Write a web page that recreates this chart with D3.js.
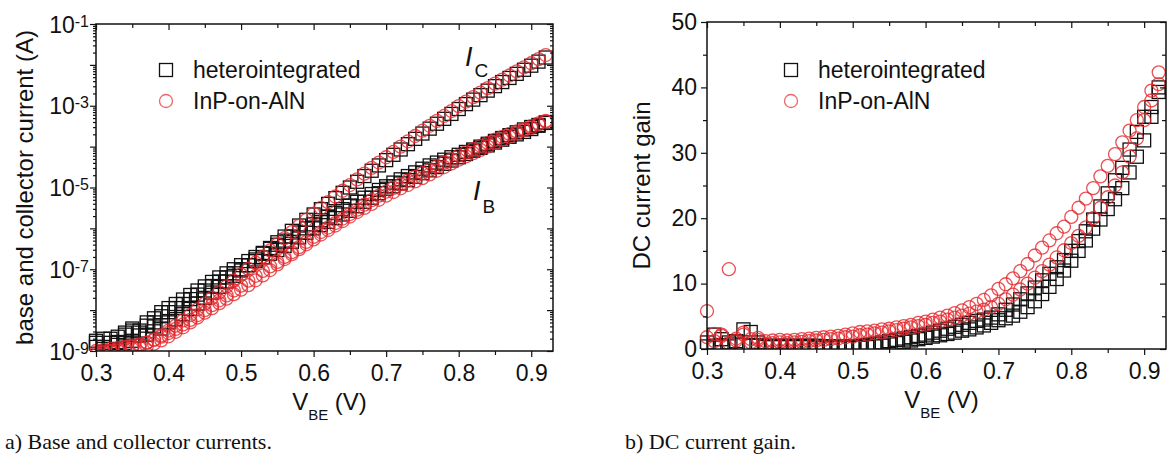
<!DOCTYPE html>
<html>
<head>
<meta charset="utf-8">
<script src="https://cdn.jsdelivr.net/npm/d3@7"></script>
<style>
  body { margin: 0; background: #fff; }
  svg text { font-family: "Liberation Sans", Arial, sans-serif; fill: #111; }
  .tick text { font-size: 23px; }
  .tick line { stroke: #111; stroke-width: 1.2; }
</style>
</head>
<body>
<svg id="fig" width="1167" height="456"></svg>
<script>
// base-emitter voltage steps (V)
var vbe = [
  0.30, 0.31, 0.32, 0.33, 0.34, 0.35, 0.36, 0.37, 0.38, 0.39,
  0.40, 0.41, 0.42, 0.43, 0.44, 0.45, 0.46, 0.47, 0.48, 0.49,
  0.50, 0.51, 0.52, 0.53, 0.54, 0.55, 0.56, 0.57, 0.58, 0.59,
  0.60, 0.61, 0.62, 0.63, 0.64, 0.65, 0.66, 0.67, 0.68, 0.69,
  0.70, 0.71, 0.72, 0.73, 0.74, 0.75, 0.76, 0.77, 0.78, 0.79,
  0.80, 0.81, 0.82, 0.83, 0.84, 0.85, 0.86, 0.87, 0.88, 0.89,
  0.90, 0.91, 0.92
];

// log10 of currents (A), read off panel a)
var heteroLogIc = [
  -8.75, -8.95, -8.80, -8.85, -8.55, -8.75, -8.50, -8.60, -8.40, -8.45,
  -8.30, -8.22, -8.10, -7.97, -7.84, -7.70, -7.57, -7.43, -7.30, -7.16,
  -7.03, -6.90, -6.76, -6.62, -6.48, -6.34, -6.20, -6.06, -5.93, -5.79,
  -5.66, -5.53, -5.40, -5.26, -5.13, -5.00, -4.86, -4.72, -4.59, -4.46,
  -4.33, -4.20, -4.07, -3.94, -3.81, -3.68, -3.56, -3.44, -3.32, -3.20,
  -3.08, -2.96, -2.85, -2.74, -2.63, -2.52, -2.42, -2.32, -2.22, -2.12,
  -2.02, -1.92, -1.82
];
var heteroLogIb1 = [
  -8.90, -8.70, -8.95, -8.65, -8.80, -8.50, -8.62, -8.38, -8.30, -8.15,
  -8.05, -7.95, -7.85, -7.73, -7.62, -7.52, -7.41, -7.30, -7.20, -7.10,
  -7.00, -6.90, -6.80, -6.71, -6.62, -6.53, -6.43, -6.33, -6.22, -6.11,
  -6.00, -5.92, -5.84, -5.75, -5.66, -5.57, -5.46, -5.35, -5.25, -5.14,
  -5.03, -4.97, -4.90, -4.82, -4.74, -4.65, -4.58, -4.50, -4.42, -4.34,
  -4.26, -4.18, -4.10, -4.03, -3.97, -3.90, -3.83, -3.76, -3.70, -3.64,
  -3.57, -3.49, -3.42
];
var heteroLogIb2 = [
  -8.80, -8.90, -8.70, -8.78, -8.60, -8.45, -8.55, -8.30, -8.20, -8.05,
  -7.95, -7.85, -7.74, -7.63, -7.52, -7.42, -7.31, -7.20, -7.10, -7.00,
  -6.90, -6.80, -6.70, -6.60, -6.50, -6.40, -6.30, -6.20, -6.10, -6.00,
  -5.90, -5.80, -5.71, -5.62, -5.53, -5.44, -5.35, -5.25, -5.16, -5.06,
  -4.97, -4.88, -4.80, -4.72, -4.63, -4.54, -4.46, -4.39, -4.32, -4.26,
  -4.20, -4.13, -4.07, -4.00, -3.93, -3.86, -3.79, -3.72, -3.65, -3.58,
  -3.52, -3.47, -3.41
];
var inpLogIc = [
  -9.05, -9.02, -9.00, -8.96, -8.93, -8.90, -8.86, -8.80, -8.72, -8.62,
  -8.50, -8.38, -8.25, -8.12, -7.98, -7.84, -7.70, -7.56, -7.42, -7.28,
  -7.13, -6.99, -6.84, -6.69, -6.54, -6.39, -6.24, -6.09, -5.94, -5.79,
  -5.64, -5.50, -5.36, -5.22, -5.08, -4.94, -4.80, -4.66, -4.52, -4.39,
  -4.26, -4.13, -4.00, -3.87, -3.74, -3.61, -3.49, -3.37, -3.25, -3.13,
  -3.01, -2.90, -2.79, -2.68, -2.57, -2.46, -2.36, -2.26, -2.16, -2.06,
  -1.96, -1.86, -1.76
];
var inpLogIb1 = [
  -9.10, -9.05, -9.02, -9.00, -8.98, -8.95, -8.92, -8.88, -8.82, -8.74,
  -8.64, -8.53, -8.42, -8.30, -8.18, -8.06, -7.95, -7.83, -7.72, -7.61,
  -7.50, -7.39, -7.27, -7.15, -7.02, -6.88, -6.75, -6.63, -6.51, -6.39,
  -6.27, -6.15, -6.04, -5.93, -5.82, -5.71, -5.60, -5.50, -5.40, -5.30,
  -5.20, -5.11, -5.02, -4.94, -4.85, -4.77, -4.68, -4.59, -4.50, -4.41,
  -4.32, -4.24, -4.16, -4.08, -4.00, -3.91, -3.83, -3.76, -3.68, -3.60,
  -3.54, -3.46, -3.39
];
var inpLogIb2 = [
  -9.00, -8.98, -8.95, -8.93, -8.90, -8.87, -8.84, -8.79, -8.73, -8.65,
  -8.56, -8.46, -8.35, -8.24, -8.12, -8.00, -7.88, -7.76, -7.64, -7.52,
  -7.40, -7.28, -7.16, -7.04, -6.93, -6.82, -6.70, -6.58, -6.46, -6.33,
  -6.21, -6.09, -5.98, -5.87, -5.76, -5.65, -5.54, -5.42, -5.31, -5.20,
  -5.10, -5.01, -4.92, -4.83, -4.74, -4.65, -4.57, -4.48, -4.39, -4.31,
  -4.22, -4.14, -4.06, -3.98, -3.91, -3.83, -3.76, -3.69, -3.63, -3.57,
  -3.50, -3.43, -3.37
];

// DC current gain, read off panel b)
var heteroGainA = [
  0.4, 2.2, 0.6, 1.0, 0.7, 3.0, 2.6, 0.6, 0.5, 0.5,
  0.5, 0.5, 0.5, 0.5, 0.5, 0.5, 0.4, 0.4, 0.4, 0.4,
  0.4, 0.5, 0.6, 0.8, 1.0, 1.2, 1.4, 1.6, 1.8, 2.0,
  2.2, 2.5, 2.8, 3.1, 3.4, 3.7, 4.0, 4.3, 4.5, 4.8,
  5.3, 6.0, 6.8, 7.6, 8.5, 9.4, 10.5, 11.5, 12.5, 13.6,
  15.0, 16.5, 18.0, 19.8, 21.8, 23.8, 25.8, 27.7, 30.5, 33.2,
  35.5, 37.0, 40.0
];
var heteroGainB = [
  1.0, 0.5, 1.5, 0.4, 1.2, 0.6, 0.5, 1.0, 0.3, 0.3,
  0.3, 0.3, 0.3, 0.3, 0.3, 0.2, 0.2, 0.2, 0.2, 0.2,
  0.2, 0.2, 0.3, 0.4, 0.5, 0.7, 0.9, 1.1, 1.3, 1.5,
  1.7, 1.9, 2.1, 2.3, 2.5, 2.8, 3.0, 3.3, 3.6, 4.0,
  4.4, 4.7, 5.1, 5.7, 6.4, 7.3, 8.4, 9.5, 10.7, 12.0,
  13.5, 15.0, 16.6, 18.4, 19.8, 21.4, 22.9, 24.6, 27.0, 29.4,
  31.9, 35.5, 39.3
];
var inpGainA = [
  5.8, 2.3, 2.2, 12.2, 1.6, 2.2, 1.5, 1.4, 1.2, 1.3,
  1.4, 1.3, 1.4, 1.5, 1.6, 1.7, 1.8, 1.9, 2.0, 2.2,
  2.4, 2.6, 2.7, 2.8, 3.0, 3.1, 3.3, 3.5, 3.7, 4.0,
  4.2, 4.5, 4.8, 5.1, 5.5, 5.9, 6.4, 6.9, 7.5, 8.2,
  9.2, 9.9, 10.8, 11.9, 13.0, 14.3, 15.5, 16.6, 17.7, 18.7,
  20.2, 21.6, 23.0, 24.6, 26.4, 28.0, 29.8, 31.6, 33.4, 35.0,
  37.0, 39.5, 42.3
];
var inpGainB = [
  1.8, 1.2, 2.0, 0.9, 1.3, 2.5, 1.0, 1.7, 0.8, 0.9,
  1.0, 0.9, 1.0, 1.1, 1.2, 1.3, 1.4, 1.5, 1.6, 1.8,
  1.9, 2.1, 2.2, 2.4, 2.5, 2.7, 2.9, 3.1, 3.3, 3.5,
  3.7, 4.0, 4.2, 4.5, 4.8, 5.1, 5.4, 5.7, 6.0, 6.4,
  6.9, 7.6, 8.3, 9.1, 10.0, 10.9, 11.9, 12.9, 14.0, 15.1,
  16.2, 17.3, 18.6, 20.0, 21.6, 23.2, 25.0, 27.0, 29.4, 32.2,
  35.0, 38.0, 40.5
];

var seriesNames = ["heterointegrated", "InP-on-AlN"];
var xTicks = [0.3, 0.4, 0.5, 0.6, 0.7, 0.8, 0.9];
var xMinorTicks = [0.35, 0.45, 0.55, 0.65, 0.75, 0.85];
var logDecades = [-9, -8, -7, -6, -5, -4, -3, -2, -1];
var logLabelDecades = [-9, -7, -5, -3, -1];
var gainTicks = [0, 10, 20, 30, 40, 50];
var gainMinorTicks = [5, 15, 25, 35, 45];

var black = "#111", red = "#e3262b";
var svg = d3.select("#fig");

// make a panel group with its own clip
function makePanel(left, top, width, height, id) {
  var g = svg.append("g").attr("transform", "translate(" + left + "," + top + ")");
  g.append("clipPath").attr("id", id)
    .append("rect").attr("x", -20).attr("y", 0).attr("width", width + 40).attr("height", height);
  g.width = width;
  g.height = height;
  return g;
}

// add an axis and strip its domain line
function addAxis(g, axis, tx, ty) {
  var a = g.append("g").attr("transform", "translate(" + tx + "," + ty + ")").call(axis);
  a.select(".domain").remove();
  return a;
}

// ticks on all 4 sides, Origin style
function drawXAxes(g, x) {
  addAxis(g, d3.axisBottom(x).tickValues(xTicks).tickSize(6).tickSizeOuter(0).tickPadding(8).tickFormat(d3.format(".1f")), 0, g.height);
  addAxis(g, d3.axisBottom(x).tickValues(xMinorTicks).tickSize(4).tickSizeOuter(0).tickFormat(""), 0, g.height);
  addAxis(g, d3.axisBottom(x).tickValues(xTicks).tickSize(6).tickSizeOuter(0).tickFormat(""), 0, 0);
  addAxis(g, d3.axisBottom(x).tickValues(xMinorTicks).tickSize(4).tickSizeOuter(0).tickFormat(""), 0, 0);
}

function drawFrame(g) {
  g.append("rect").attr("width", g.width).attr("height", g.height)
    .attr("fill", "none").attr("stroke", black).attr("stroke-width", 1.5);
}

function drawSquares(g, clipId, xs, ys, x, y) {
  g.append("g").attr("clip-path", "url(#" + clipId + ")")
    .selectAll("rect").data(xs).enter().append("rect")
    .attr("x", function (d) { return x(d) - 6.5; })
    .attr("y", function (d, i) { return y(ys[i]) - 6.5; })
    .attr("width", 13).attr("height", 13)
    .attr("fill", "none").attr("stroke", black).attr("stroke-width", 1.3);
}

function drawCircles(g, clipId, xs, ys, x, y) {
  g.append("g").attr("clip-path", "url(#" + clipId + ")")
    .selectAll("circle").data(xs).enter().append("circle")
    .attr("cx", function (d) { return x(d); })
    .attr("cy", function (d, i) { return y(ys[i]); })
    .attr("r", 6.5)
    .attr("fill", "none").attr("stroke", red).attr("stroke-width", 1.3).attr("stroke-opacity", 0.8);
}

function drawLegend(g, lx, ly) {
  g.append("rect").attr("x", lx - 6.5).attr("y", ly - 6.5).attr("width", 13).attr("height", 13)
    .attr("fill", "none").attr("stroke", black).attr("stroke-width", 1.3);
  g.append("circle").attr("cx", lx).attr("cy", ly + 31).attr("r", 6.5)
    .attr("fill", "none").attr("stroke", red).attr("stroke-width", 1.3).attr("stroke-opacity", 0.7);
  seriesNames.forEach(function (name, i) {
    g.append("text").attr("x", lx + 27).attr("y", ly + 8 + i * 31)
      .style("font-size", "23px").text(name);
  });
}

function drawXTitle(g) {
  var t = g.append("text").attr("x", g.width / 2 + 5).attr("y", g.height + 59)
    .attr("text-anchor", "middle").style("font-size", "24px");
  t.append("tspan").text("V");
  t.append("tspan").attr("dy", 10).style("font-size", "15px").text("BE");
  t.append("tspan").attr("dy", -10).text(" (V)");
}

function drawYTitle(g, bx, label) {
  g.append("text")
    .attr("transform", "translate(" + bx + "," + (g.height / 2) + ") rotate(-90)")
    .attr("text-anchor", "middle").style("font-size", "24px").text(label);
}

// ---------- panel a) currents ----------
var pa = makePanel(96, 24, 457, 327, "clipA");
var xa = d3.scaleLinear().domain([0.3, 0.93]).range([0, pa.width]);
var ya = d3.scaleLog().domain([1e-9, 1e-1]).range([pa.height, 0]);
var toAmp = function (arr) { return arr.map(function (v) { return Math.pow(10, v); }); };

[heteroLogIc, heteroLogIb1, heteroLogIb2].forEach(function (s) {
  drawSquares(pa, "clipA", vbe, toAmp(s), xa, ya);
});
[inpLogIc, inpLogIb1, inpLogIb2].forEach(function (s) {
  drawCircles(pa, "clipA", vbe, toAmp(s), xa, ya);
});

drawXAxes(pa, xa);
var majorLog = logDecades.map(function (d) { return Math.pow(10, d); });
var minorLog = [];
logDecades.slice(0, -1).forEach(function (d) {
  for (var m = 2; m < 10; m++) minorLog.push(m * Math.pow(10, d));
});
addAxis(pa, d3.axisLeft(ya).tickValues(majorLog).tickSize(6).tickSizeOuter(0).tickFormat(""), 0, 0);
addAxis(pa, d3.axisLeft(ya).tickValues(minorLog).tickSize(3).tickSizeOuter(0).tickFormat(""), 0, 0);
addAxis(pa, d3.axisLeft(ya).tickValues(majorLog).tickSize(6).tickSizeOuter(0).tickFormat(""), pa.width, 0);
addAxis(pa, d3.axisLeft(ya).tickValues(minorLog).tickSize(3).tickSizeOuter(0).tickFormat(""), pa.width, 0);

// 10^n labels with superscript
logLabelDecades.forEach(function (d) {
  var t = pa.append("text").attr("x", -7).attr("y", ya(Math.pow(10, d)) + 8.5)
    .attr("text-anchor", "end").style("font-size", "23px");
  t.append("tspan").text("10");
  t.append("tspan").attr("dy", -6).style("font-size", "16px").text(String(d));
});
drawFrame(pa);
drawLegend(pa, 70, 46);
drawXTitle(pa);
drawYTitle(pa, -63, "base and collector current (A)");

// I_C and I_B annotations
var ic = pa.append("text").attr("x", 369).attr("y", 42).style("font-size", "27px");
ic.append("tspan").style("font-style", "italic").text("I");
ic.append("tspan").attr("dx", 2).attr("dy", 11).style("font-size", "19px").text("C");
var ib = pa.append("text").attr("x", 377).attr("y", 176).style("font-size", "27px");
ib.append("tspan").style("font-style", "italic").text("I");
ib.append("tspan").attr("dx", 2).attr("dy", 13).style("font-size", "19px").text("B");

// ---------- panel b) gain ----------
var pb = makePanel(707, 22, 459, 327, "clipB");
var xb = d3.scaleLinear().domain([0.3, 0.93]).range([0, pb.width]);
var yb = d3.scaleLinear().domain([0, 50]).range([pb.height, 0]);

drawSquares(pb, "clipB", vbe, heteroGainA, xb, yb);
drawSquares(pb, "clipB", vbe, heteroGainB, xb, yb);
drawCircles(pb, "clipB", vbe, inpGainA, xb, yb);
drawCircles(pb, "clipB", vbe, inpGainB, xb, yb);

drawXAxes(pb, xb);
addAxis(pb, d3.axisLeft(yb).tickValues(gainTicks).tickSize(6).tickSizeOuter(0).tickPadding(4), 0, 0);
addAxis(pb, d3.axisLeft(yb).tickValues(gainMinorTicks).tickSize(4).tickSizeOuter(0).tickFormat(""), 0, 0);
addAxis(pb, d3.axisLeft(yb).tickValues(gainTicks).tickSize(6).tickSizeOuter(0).tickFormat(""), pb.width, 0);
addAxis(pb, d3.axisLeft(yb).tickValues(gainMinorTicks).tickSize(4).tickSizeOuter(0).tickFormat(""), pb.width, 0);
drawFrame(pb);
drawLegend(pb, 84, 48);
drawXTitle(pb);
drawYTitle(pb, -57, "DC current gain");

// captions
svg.append("text").attr("x", 5).attr("y", 449)
  .style("font-family", "'Liberation Serif', 'Times New Roman', serif").style("font-size", "22px")
  .text("a) Base and collector currents.");
svg.append("text").attr("x", 625).attr("y", 449)
  .style("font-family", "'Liberation Serif', 'Times New Roman', serif").style("font-size", "22px")
  .text("b) DC current gain.");
</script>
</body>
</html>
